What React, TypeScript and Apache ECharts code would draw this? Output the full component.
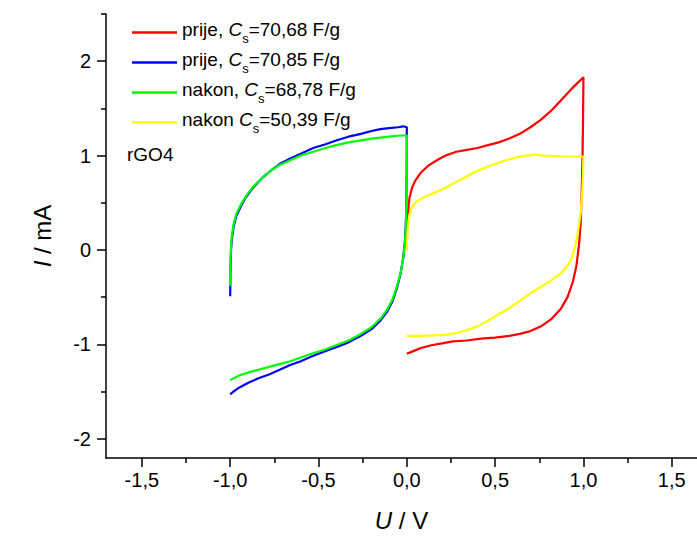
import React, { useEffect, useRef } from "react";
import * as echarts from "echarts";

const seriesNames = ["prije, Cs=70,68 F/g", "prije, Cs=70,85 F/g", "nakon, Cs=68,78 F/g", "nakon Cs=50,39 F/g"];
const legendPrefix = ["prije, ", "prije, ", "nakon, ", "nakon "];
const legendValue = ["=70,68 F/g", "=70,85 F/g", "=68,78 F/g", "=50,39 F/g"];
const seriesColors = ["#ff0000", "#0000ff", "#00ff00", "#ffff00"];

const xMajor = [-1.5, -1.0, -0.5, 0.0, 0.5, 1.0, 1.5];
const xMinor = [-1.25, -0.75, -0.25, 0.25, 0.75, 1.25];
const yMajor = [-2, -1, 0, 1, 2];
const yMinor = [-1.5, -0.5, 0.5, 1.5, 2.5];

const redData = [
  [0.0, 0.05], [0.003, 0.25], [0.008, 0.42], [0.015, 0.55], [0.03, 0.66], [0.05, 0.74], [0.08, 0.82],
  [0.12, 0.89], [0.17, 0.95], [0.22, 1.0], [0.28, 1.04], [0.34, 1.06], [0.4, 1.08], [0.46, 1.11],
  [0.52, 1.14], [0.58, 1.18], [0.64, 1.23], [0.7, 1.3], [0.76, 1.38], [0.82, 1.48], [0.88, 1.6],
  [0.94, 1.72], [1.0, 1.83],
  [0.998, 1.4], [0.995, 1.0], [0.99, 0.6], [0.985, 0.3], [0.975, 0.05], [0.96, -0.17], [0.94, -0.34],
  [0.91, -0.5], [0.87, -0.63], [0.82, -0.73], [0.76, -0.81], [0.7, -0.86], [0.64, -0.89], [0.58, -0.91],
  [0.5, -0.93], [0.42, -0.94], [0.34, -0.96], [0.26, -0.97], [0.2, -0.99], [0.14, -1.01], [0.08, -1.04],
  [0.04, -1.07], [0.0, -1.1],
];

const blueData = [
  [-1.0, -0.49], [-0.998, -0.2], [-0.995, 0.0], [-0.99, 0.12], [-0.98, 0.25], [-0.965, 0.36], [-0.94, 0.46],
  [-0.91, 0.56], [-0.87, 0.66], [-0.82, 0.76], [-0.77, 0.84], [-0.72, 0.91], [-0.66, 0.97], [-0.6, 1.02],
  [-0.53, 1.08], [-0.46, 1.12], [-0.4, 1.16], [-0.33, 1.2], [-0.26, 1.23], [-0.2, 1.26], [-0.15, 1.28],
  [-0.1, 1.29], [-0.05, 1.3], [-0.02, 1.31], [0.0, 1.3],
  [0.0, 1.0], [-0.002, 0.6], [-0.005, 0.3], [-0.01, 0.1], [-0.02, -0.08], [-0.035, -0.25], [-0.055, -0.4],
  [-0.08, -0.54], [-0.11, -0.65], [-0.15, -0.75], [-0.2, -0.84], [-0.26, -0.91], [-0.33, -0.98],
  [-0.4, -1.03], [-0.47, -1.08], [-0.54, -1.13], [-0.6, -1.18], [-0.66, -1.22], [-0.72, -1.27],
  [-0.78, -1.32], [-0.84, -1.36], [-0.9, -1.41], [-0.95, -1.46], [-0.98, -1.5], [-1.0, -1.53],
];

const greenData = [
  [-1.0, -0.38], [-0.998, -0.1], [-0.995, 0.05], [-0.99, 0.16], [-0.98, 0.28], [-0.965, 0.38], [-0.94, 0.48],
  [-0.91, 0.57], [-0.87, 0.67], [-0.82, 0.76], [-0.77, 0.84], [-0.72, 0.9], [-0.66, 0.95], [-0.6, 1.0],
  [-0.53, 1.04], [-0.46, 1.08], [-0.4, 1.11], [-0.33, 1.14], [-0.26, 1.16], [-0.2, 1.18], [-0.15, 1.19],
  [-0.1, 1.2], [-0.05, 1.21], [0.0, 1.215],
  [0.0, 0.9], [-0.002, 0.5], [-0.006, 0.2], [-0.012, 0.05], [-0.02, -0.08], [-0.035, -0.24], [-0.055, -0.38],
  [-0.08, -0.52], [-0.11, -0.63], [-0.15, -0.73], [-0.2, -0.82], [-0.26, -0.89], [-0.33, -0.96],
  [-0.4, -1.01], [-0.47, -1.06], [-0.54, -1.1], [-0.6, -1.14], [-0.66, -1.18], [-0.72, -1.21],
  [-0.78, -1.24], [-0.84, -1.27], [-0.9, -1.3], [-0.95, -1.33], [-1.0, -1.38],
];

const yellowData = [
  [0.0, -0.01], [0.003, 0.15], [0.008, 0.28], [0.015, 0.38], [0.03, 0.46], [0.06, 0.52], [0.1, 0.56],
  [0.15, 0.6], [0.2, 0.64], [0.26, 0.7], [0.32, 0.76], [0.38, 0.82], [0.44, 0.87], [0.5, 0.91],
  [0.56, 0.95], [0.62, 0.98], [0.68, 1.0], [0.72, 1.01], [0.78, 1.0], [0.84, 0.995], [0.9, 0.99],
  [0.96, 0.99], [1.0, 0.99],
  [0.998, 0.8], [0.993, 0.6], [0.985, 0.4], [0.97, 0.2], [0.955, 0.05], [0.935, -0.08], [0.91, -0.17],
  [0.87, -0.25], [0.82, -0.32], [0.76, -0.39], [0.7, -0.46], [0.64, -0.54], [0.58, -0.62], [0.52, -0.68],
  [0.46, -0.75], [0.4, -0.81], [0.34, -0.85], [0.28, -0.88], [0.22, -0.9], [0.15, -0.905], [0.08, -0.91],
  [0.0, -0.91],
];

const allData = [redData, blueData, greenData, yellowData];
const FONT = "'Liberation Sans', Arial, sans-serif";

export default function App() {
  const ref = useRef<HTMLDivElement>(null);
  useEffect(() => {
    if (!ref.current) return;
    const chart = echarts.init(ref.current, undefined, { renderer: "svg" });
    const xMin = -1.703, xMax = 1.643, yMin = -2.205, yMax = 2.5;
    const axisLineStyle = { color: "#000", width: 1.5 };
    chart.setOption({
      animation: false,
      backgroundColor: "#fff",
      textStyle: { fontFamily: FONT },
      grid: { left: 106, right: 0, top: 14, bottom: 83, containLabel: false },
      xAxis: [
        {
          type: "value", min: xMin, max: xMax, position: "bottom",
          axisLine: { show: true, onZero: false, lineStyle: axisLineStyle },
          axisTick: { show: true, customValues: xMajor, length: 9, lineStyle: axisLineStyle },
          axisLabel: {
            customValues: xMajor, margin: 12, fontSize: 20, color: "#000", fontFamily: FONT,
            formatter: (v: number) => v.toFixed(1).replace(".", ","),
          },
          splitLine: { show: false },
          name: "{i|U} / V", nameLocation: "middle", nameGap: 50,
          nameTextStyle: {
            fontSize: 24, color: "#000", fontFamily: FONT,
            rich: { i: { fontStyle: "italic", fontSize: 24, fontFamily: FONT, color: "#000" } },
          },
        },
        {
          type: "value", min: xMin, max: xMax, position: "bottom",
          axisLine: { show: false, onZero: false },
          axisTick: { show: true, customValues: xMinor, length: 5, lineStyle: axisLineStyle },
          axisLabel: { show: false },
          splitLine: { show: false },
        },
      ],
      yAxis: [
        {
          type: "value", min: yMin, max: yMax, position: "left",
          axisLine: { show: true, onZero: false, lineStyle: axisLineStyle },
          axisTick: { show: true, customValues: yMajor, length: 9, lineStyle: axisLineStyle },
          axisLabel: {
            customValues: yMajor, margin: 15, fontSize: 20, color: "#000", fontFamily: FONT,
            formatter: (v: number) => String(v),
          },
          splitLine: { show: false },
          name: "{i|I} / mA", nameLocation: "middle", nameGap: 52,
          nameTextStyle: {
            fontSize: 24, color: "#000", fontFamily: FONT,
            rich: { i: { fontStyle: "italic", fontSize: 24, fontFamily: FONT, color: "#000" } },
          },
        },
        {
          type: "value", min: yMin, max: yMax, position: "left",
          axisLine: { show: false, onZero: false },
          axisTick: { show: true, customValues: yMinor, length: 5, lineStyle: axisLineStyle },
          axisLabel: { show: false },
          splitLine: { show: false },
        },
      ],
      legend: {
        show: true,
        orient: "vertical",
        left: 127,
        top: 15,
        icon: "rect",
        itemWidth: 45,
        itemHeight: 2.5,
        itemGap: 5,
        data: seriesNames,
        formatter: (name: string) => {
          const k = seriesNames.indexOf(name);
          return `{n|${legendPrefix[k]}}{i|C}{s|s}{n|${legendValue[k]}}`;
        },
        textStyle: {
          fontFamily: FONT,
          fontSize: 19,
          color: "#000",
          padding: [0, 0, 0, 0],
          rich: {
            n: { fontSize: 19, fontFamily: FONT, color: "#000", lineHeight: 25, verticalAlign: "top" },
            i: { fontSize: 19, fontFamily: FONT, color: "#000", fontStyle: "italic", lineHeight: 25, verticalAlign: "top" },
            s: { fontSize: 13, fontFamily: FONT, color: "#000", lineHeight: 13, verticalAlign: "bottom" },
          },
        },
      },
      graphic: [
        {
          type: "text", left: 127, top: 145,
          style: { text: "rGO4", fontSize: 19, fontFamily: FONT, fill: "#000" },
        },
      ],
      series: allData.map((d, k) => ({
        name: seriesNames[k],
        type: "line",
        xAxisIndex: 0,
        yAxisIndex: 0,
        data: d,
        showSymbol: false,
        symbol: "none",
        smooth: false,
        lineStyle: { color: seriesColors[k], width: 2.2 },
        itemStyle: { color: seriesColors[k] },
        z: 2 + k,
      })),
    });
    return () => chart.dispose();
  }, []);
  return <div ref={ref} style={{ position: "fixed", left: 0, top: 0, width: 697, height: 541 }} />;
}
